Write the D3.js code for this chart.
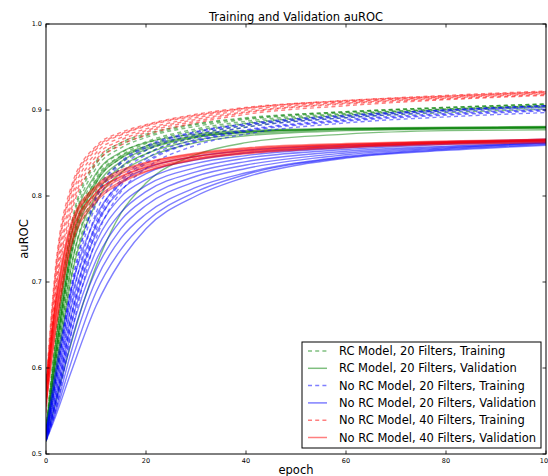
<!DOCTYPE html>
<html lang="en">
  <head>
  <meta charset="utf-8">
  <script type="text/javascript" src="https://d3js.org/d3.v7.min.js"></script>
  <style type="text/css">
    body {
      margin: 0px;
      background: #fff;
    }
    text {
      font-family: "DejaVu Sans", sans-serif;
      fill: #000;
    }
    .run {
      fill: none;
      stroke-width: 1.4;
      stroke-opacity: 0.5;
    }
    .tick-label {
      font-size: 6.5px;
    }
  </style>
  </head>

  <body>
    <div id="svg"></div>
    <script type="text/javascript">
        var epochs = [0, 2, 5, 10, 15, 20, 30, 40, 60, 80, 100];

        // RC Model, 20 Filters, Training
        var rcTrain = [
          [0.530, 0.640, 0.765, 0.840, 0.862, 0.872, 0.884, 0.891, 0.898, 0.903, 0.907],
          [0.525, 0.628, 0.752, 0.832, 0.856, 0.868, 0.881, 0.889, 0.897, 0.902, 0.906],
          [0.522, 0.618, 0.740, 0.824, 0.850, 0.863, 0.878, 0.887, 0.896, 0.901, 0.905],
          [0.520, 0.608, 0.728, 0.815, 0.844, 0.858, 0.874, 0.884, 0.894, 0.900, 0.904],
          [0.518, 0.598, 0.716, 0.806, 0.838, 0.853, 0.871, 0.882, 0.893, 0.899, 0.903],
          [0.528, 0.635, 0.760, 0.837, 0.860, 0.870, 0.883, 0.890, 0.898, 0.903, 0.907],
          [0.516, 0.590, 0.705, 0.798, 0.832, 0.849, 0.868, 0.880, 0.891, 0.897, 0.901],
          [0.520, 0.612, 0.734, 0.820, 0.847, 0.861, 0.876, 0.885, 0.895, 0.901, 0.905]
        ];
        // RC Model, 20 Filters, Validation
        var rcVal = [
          [0.528, 0.632, 0.752, 0.826, 0.851, 0.862, 0.872, 0.876, 0.879, 0.880, 0.881],
          [0.524, 0.622, 0.740, 0.818, 0.846, 0.858, 0.870, 0.875, 0.878, 0.879, 0.880],
          [0.520, 0.612, 0.728, 0.810, 0.840, 0.854, 0.868, 0.874, 0.878, 0.879, 0.880],
          [0.518, 0.602, 0.716, 0.801, 0.834, 0.849, 0.865, 0.872, 0.877, 0.878, 0.879],
          [0.516, 0.592, 0.703, 0.792, 0.827, 0.844, 0.862, 0.870, 0.876, 0.878, 0.879],
          [0.522, 0.618, 0.735, 0.815, 0.844, 0.856, 0.869, 0.874, 0.878, 0.879, 0.880],
          [0.514, 0.562, 0.628, 0.718, 0.780, 0.815, 0.848, 0.862, 0.872, 0.876, 0.877]
        ];
        // No RC Model, 20 Filters, Training
        var noRc20Train = [
          [0.525, 0.590, 0.690, 0.800, 0.840, 0.858, 0.875, 0.884, 0.894, 0.900, 0.905],
          [0.522, 0.580, 0.685, 0.790, 0.833, 0.853, 0.872, 0.882, 0.892, 0.899, 0.904],
          [0.520, 0.572, 0.672, 0.780, 0.826, 0.848, 0.869, 0.880, 0.891, 0.898, 0.903],
          [0.518, 0.565, 0.660, 0.770, 0.819, 0.843, 0.866, 0.877, 0.889, 0.896, 0.901],
          [0.516, 0.558, 0.648, 0.760, 0.812, 0.838, 0.863, 0.875, 0.887, 0.894, 0.899],
          [0.515, 0.552, 0.638, 0.750, 0.805, 0.832, 0.859, 0.872, 0.885, 0.892, 0.897],
          [0.524, 0.586, 0.694, 0.796, 0.838, 0.856, 0.874, 0.883, 0.893, 0.900, 0.905],
          [0.517, 0.562, 0.655, 0.765, 0.816, 0.840, 0.864, 0.876, 0.888, 0.895, 0.900]
        ];
        // No RC Model, 20 Filters, Validation
        var noRc20Val = [
          [0.528, 0.600, 0.690, 0.776, 0.815, 0.832, 0.846, 0.853, 0.859, 0.863, 0.866],
          [0.525, 0.592, 0.680, 0.766, 0.807, 0.826, 0.842, 0.850, 0.857, 0.862, 0.865],
          [0.523, 0.585, 0.670, 0.756, 0.799, 0.819, 0.838, 0.847, 0.856, 0.861, 0.865],
          [0.521, 0.578, 0.660, 0.746, 0.790, 0.812, 0.833, 0.844, 0.854, 0.860, 0.864],
          [0.520, 0.571, 0.650, 0.736, 0.781, 0.805, 0.828, 0.840, 0.852, 0.858, 0.863],
          [0.519, 0.565, 0.640, 0.725, 0.772, 0.797, 0.823, 0.836, 0.850, 0.857, 0.862],
          [0.518, 0.559, 0.630, 0.714, 0.762, 0.789, 0.817, 0.832, 0.848, 0.856, 0.862],
          [0.517, 0.553, 0.618, 0.702, 0.751, 0.779, 0.810, 0.827, 0.846, 0.855, 0.861],
          [0.516, 0.549, 0.606, 0.688, 0.738, 0.770, 0.805, 0.825, 0.845, 0.854, 0.860],
          [0.515, 0.545, 0.595, 0.672, 0.725, 0.762, 0.800, 0.822, 0.844, 0.853, 0.859]
        ];
        // No RC Model, 40 Filters, Training
        var noRc40Train = [
          [0.580, 0.722, 0.810, 0.858, 0.874, 0.883, 0.895, 0.903, 0.911, 0.917, 0.922],
          [0.570, 0.712, 0.803, 0.854, 0.871, 0.881, 0.893, 0.902, 0.910, 0.916, 0.921],
          [0.565, 0.703, 0.796, 0.850, 0.868, 0.878, 0.891, 0.900, 0.909, 0.915, 0.920],
          [0.558, 0.695, 0.790, 0.846, 0.865, 0.876, 0.889, 0.898, 0.908, 0.914, 0.919],
          [0.552, 0.688, 0.783, 0.842, 0.862, 0.874, 0.887, 0.897, 0.907, 0.913, 0.918],
          [0.575, 0.716, 0.806, 0.856, 0.872, 0.882, 0.894, 0.902, 0.911, 0.916, 0.921],
          [0.548, 0.683, 0.778, 0.838, 0.859, 0.871, 0.885, 0.895, 0.905, 0.912, 0.917]
        ];
        // No RC Model, 40 Filters, Validation
        var noRc40Val = [
          [0.585, 0.680, 0.768, 0.812, 0.830, 0.839, 0.850, 0.856, 0.861, 0.864, 0.866],
          [0.578, 0.672, 0.762, 0.808, 0.826, 0.836, 0.848, 0.854, 0.860, 0.863, 0.865],
          [0.572, 0.665, 0.756, 0.804, 0.823, 0.834, 0.846, 0.853, 0.859, 0.862, 0.865],
          [0.565, 0.657, 0.750, 0.800, 0.820, 0.831, 0.844, 0.851, 0.858, 0.862, 0.864],
          [0.560, 0.650, 0.744, 0.796, 0.817, 0.829, 0.843, 0.850, 0.857, 0.861, 0.863],
          [0.580, 0.676, 0.765, 0.810, 0.828, 0.838, 0.849, 0.855, 0.860, 0.863, 0.866],
          [0.555, 0.645, 0.740, 0.793, 0.815, 0.828, 0.842, 0.849, 0.856, 0.860, 0.862],
          [0.570, 0.662, 0.754, 0.803, 0.822, 0.833, 0.846, 0.852, 0.858, 0.862, 0.864]
        ];

        var seriesNames = ["RC Model, 20 Filters, Training", "RC Model, 20 Filters, Validation",
                           "No RC Model, 20 Filters, Training", "No RC Model, 20 Filters, Validation",
                           "No RC Model, 40 Filters, Training", "No RC Model, 40 Filters, Validation"];
        var xTicks = [0, 20, 40, 60, 80, 100];
        var yTicks = [0.5, 0.6, 0.7, 0.8, 0.9, 1.0];

        var series = [
          {name: seriesNames[0], color: "#008000", dashed: true,  runs: rcTrain},
          {name: seriesNames[1], color: "#008000", dashed: false, runs: rcVal},
          {name: seriesNames[2], color: "#0000ff", dashed: true,  runs: noRc20Train},
          {name: seriesNames[3], color: "#0000ff", dashed: false, runs: noRc20Val},
          {name: seriesNames[4], color: "#ff0000", dashed: true,  runs: noRc40Train},
          {name: seriesNames[5], color: "#ff0000", dashed: false, runs: noRc40Val}
        ];

        var W = 548, H = 476;
        var margin = {top: 24, right: 2, bottom: 22, left: 46};
        var width = W - margin.left - margin.right,
            height = H - margin.top - margin.bottom;

        var svg = d3.select("#svg").append("svg")
            .attr("width", W)
            .attr("height", H)
          .append("g")
            .attr("transform", "translate(" + margin.left + "," + margin.top + ")");

        var x = d3.scaleLinear().domain([0, 100]).range([0, width]);
        var y = d3.scaleLinear().domain([0.5, 1.0]).range([height, 0]);

        svg.append("clipPath").attr("id", "plotclip")
          .append("rect").attr("width", width).attr("height", height);

        var line = d3.line()
            .x(function(d, i) { return x(epochs[i]); })
            .y(function(d) { return y(d); })
            .curve(d3.curveMonotoneX);

        // curves
        var groups = svg.append("g").attr("clip-path", "url(#plotclip)")
          .selectAll("g")
          .data(series)
          .enter().append("g")
            .attr("stroke", function(d) { return d.color; });

        groups.selectAll("path")
          .data(function(d) { return d.runs.map(function(r) { return {vals: r, dashed: d.dashed}; }); })
          .enter().append("path")
            .attr("class", "run")
            .attr("stroke-dasharray", function(d) { return d.dashed ? "4,3.2" : null; })
            .attr("d", function(d) { return line(d.vals); });

        // ticks inside on all four sides, matplotlib classic
        var tl = 3.5;
        var axes = svg.append("g").attr("stroke", "#000").attr("stroke-width", 0.8);
        xTicks.forEach(function(t) {
          axes.append("line").attr("x1", x(t)).attr("x2", x(t)).attr("y1", height).attr("y2", height - tl);
          axes.append("line").attr("x1", x(t)).attr("x2", x(t)).attr("y1", 0).attr("y2", tl);
        });
        yTicks.forEach(function(t) {
          axes.append("line").attr("x1", 0).attr("x2", tl).attr("y1", y(t)).attr("y2", y(t));
          axes.append("line").attr("x1", width).attr("x2", width - tl).attr("y1", y(t)).attr("y2", y(t));
        });

        svg.append("rect")
            .attr("width", width)
            .attr("height", height)
            .attr("fill", "none")
            .attr("stroke", "#000")
            .attr("stroke-width", 1);

        svg.selectAll("text.xt")
            .data(xTicks)
          .enter().append("text")
            .attr("class", "tick-label xt")
            .attr("x", function(d) { return x(d); })
            .attr("y", height + 9)
            .attr("text-anchor", "middle")
            .text(function(d) { return d; });

        svg.selectAll("text.yt")
            .data(yTicks)
          .enter().append("text")
            .attr("class", "tick-label yt")
            .attr("x", -4)
            .attr("y", function(d) { return y(d); })
            .attr("dy", "0.35em")
            .attr("text-anchor", "end")
            .text(function(d) { return d.toFixed(1); });

        //title and labels
        svg.append("text")
            .attr("x", width / 2)
            .attr("y", -3)
            .attr("text-anchor", "middle")
            .style("font-size", "11.5px")
            .text("Training and Validation auROC");

        svg.append("text")
            .attr("x", width / 2)
            .attr("y", height + 20)
            .attr("text-anchor", "middle")
            .style("font-size", "11.5px")
            .text("epoch");

        svg.append("text")
            .attr("transform", "translate(" + (-18) + "," + (height / 2) + ") rotate(-90)")
            .attr("text-anchor", "middle")
            .style("font-size", "11.5px")
            .text("auROC");

        //legend
        var lg = svg.append("g").attr("transform", "translate(" + (302 - margin.left) + "," + (342 - margin.top) + ")");
        lg.append("rect")
            .attr("width", 239)
            .attr("height", 106)
            .attr("fill", "#fff")
            .attr("stroke", "#000")
            .attr("stroke-width", 1);

        var item = lg.selectAll("g.item")
            .data(series)
          .enter().append("g")
            .attr("class", "item")
            .attr("transform", function(d, i) { return "translate(0," + (9 + i * 17.3) + ")"; });

        item.append("line")
            .attr("x1", 6).attr("x2", 25)
            .attr("stroke", function(d) { return d.color; })
            .attr("stroke-opacity", 0.5)
            .attr("stroke-width", 1.5)
            .attr("stroke-dasharray", function(d) { return d.dashed ? "4,3.2" : null; });

        item.append("text")
            .attr("x", 37)
            .attr("dy", "0.35em")
            .style("font-size", "11.5px")
            .text(function(d) { return d.name; });
    </script>
  </body>
</html>
